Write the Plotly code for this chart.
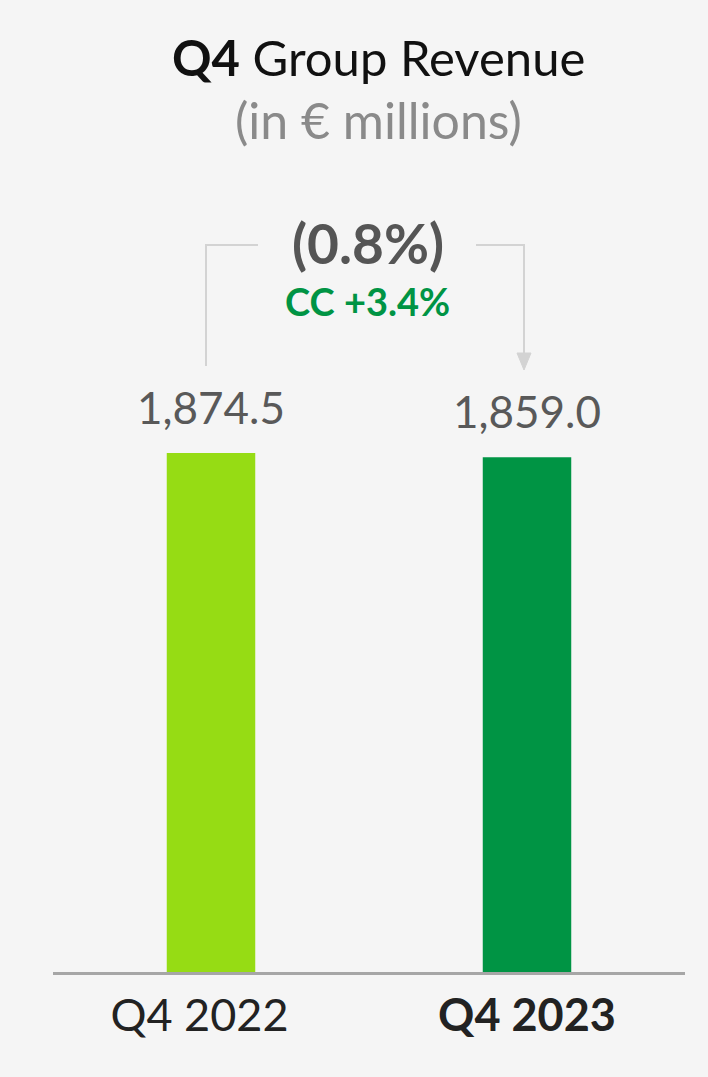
import plotly.graph_objects as go

categories = ["Q4 2022", "Q4 2023"]
tick_labels = ["Q4 2022\u00a0\u00a0", "<b>Q4 2023</b>"]
revenue = [1874.5, 1859.0]
bar_colors = ["#96DC14", "#009444"]
change_label = "(0.8%)"
cc_label = "CC +3.4%"

W, H = 708, 1077
L, R, T, B = 53, 23, 200, 105
PW, PH = W - L - R, H - T - B
FONT = "Lato"


def px(x):
    return (x - L) / PW


def py(y):
    return (H - B - y) / PH


ymax = revenue[0] * PH / 519.0

fig = go.Figure()
fig.add_trace(go.Bar(
    x=categories, y=revenue, marker=dict(color=bar_colors, line=dict(width=0)),
    hoverinfo="skip",
))

ann = []
for c, v in zip(categories, revenue):
    ann.append(dict(x=c, y=v, xref="x", yref="y", text=f"{v:,.1f}", showarrow=False,
                    yanchor="bottom", yshift=18,
                    font=dict(family=FONT, size=44, color="#595959")))

ann += [
    dict(x=px(378), y=py(57), xref="paper", yref="paper", showarrow=False,
         text="<b>Q4</b> Group Revenue", yanchor="middle",
         font=dict(family=FONT, size=49, color="#111111")),
    dict(x=px(378), y=py(120), xref="paper", yref="paper", showarrow=False,
         text="(in € millions)", yanchor="middle",
         font=dict(family=FONT, size=50, color="#8a8a8a")),
    dict(x=px(368), y=py(243), xref="paper", yref="paper", showarrow=False,
         text=f"<b>{change_label}</b>", yanchor="middle",
         font=dict(family=FONT, size=55, color="#555555")),
    dict(x=px(367), y=py(301), xref="paper", yref="paper", showarrow=False,
         text=f"<b>{cc_label}</b>", yanchor="middle",
         font=dict(family=FONT, size=38, color="#009444")),
]

lc = "#d3d3d3"
shapes = [
    dict(type="path", xref="paper", yref="paper",
         path=f"M {px(206)} {py(366)} L {px(206)} {py(245)} L {px(258)} {py(245)}",
         line=dict(color=lc, width=2)),
    dict(type="path", xref="paper", yref="paper",
         path=f"M {px(476)} {py(245)} L {px(524)} {py(245)} L {px(524)} {py(355)}",
         line=dict(color=lc, width=2)),
    dict(type="path", xref="paper", yref="paper",
         path=f"M {px(517)} {py(353)} L {px(531)} {py(353)} L {px(524)} {py(370)} Z",
         line=dict(color=lc, width=1), fillcolor=lc),
]

fig.update_layout(
    width=W, height=H, margin=dict(l=L, r=R, t=T, b=B, pad=0),
    paper_bgcolor="#f5f5f5", plot_bgcolor="#f5f5f5",
    bargap=0.72, showlegend=False,
    annotations=ann, shapes=shapes,
    xaxis=dict(type="category", tickvals=categories, ticktext=tick_labels,
               showline=True, linecolor="#a6a6a6", linewidth=3, showgrid=False,
               ticks="", ticklabelstandoff=2,
               tickfont=dict(family=FONT, size=45, color="#222222"), fixedrange=True),
    yaxis=dict(range=[0, ymax], visible=False, fixedrange=True),
)

fig.write_html(
    "out.html",
    config={"displayModeBar": False},
    post_script="document.body.style.margin='0';document.body.style.background='#f5f5f5';",
)
